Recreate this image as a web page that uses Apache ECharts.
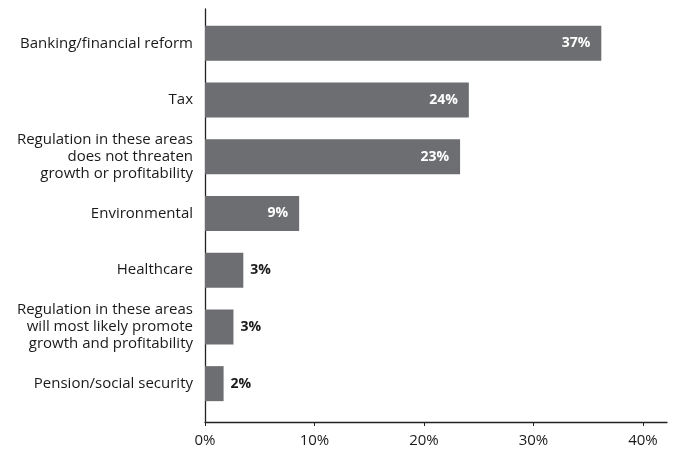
<!DOCTYPE html>
<html><head><meta charset="utf-8">
<script src="https://cdn.jsdelivr.net/npm/echarts@6/dist/echarts.min.js"></script>
<style>html,body{margin:0;padding:0;background:#fff}#c{width:677px;height:450px}</style>
</head><body><div id="c"></div>
<script>
const categories = [
  'Banking/financial reform',
  'Tax',
  'Regulation in these areas\ndoes not threaten\ngrowth or profitability',
  'Environmental',
  'Healthcare',
  'Regulation in these areas\nwill most likely promote\ngrowth and profitability',
  'Pension/social security'
];
const values = [36.2, 24.1, 23.3, 8.6, 3.5, 2.6, 1.7];
const valueLabels = ['37%', '24%', '23%', '9%', '3%', '3%', '2%'];
const xTicks = [0, 10, 20, 30, 40];
const insideThreshold = 5;

const FONT = 'Open Sans';
const TXT = '#1a1a1a';
const BAR = '#6d6e71';

const data = values.map((v, i) => {
  const inside = v > insideThreshold;
  return {
    value: v,
    label: {
      show: true,
      formatter: valueLabels[i],
      position: inside ? 'insideRight' : 'right',
      distance: inside ? 11 : 7,
      color: inside ? '#ffffff' : TXT,
      fontWeight: 'bold',
      fontSize: 14,
      fontFamily: FONT
    }
  };
});

const chart = echarts.init(document.getElementById('c'), null, {renderer: 'canvas'});
chart.setOption({
  animation: false,
  grid: [
    {left: 205, right: 10, top: 15, bottom: 38},
    {left: 205, right: 10, top: 9, bottom: 28}
  ],
  xAxis: [
    {gridIndex: 0, type: 'value', min: 0, max: 42.2, show: false},
    {gridIndex: 1, type: 'value', min: 0, max: 42.2,
     axisLine: {show: true, lineStyle: {color: '#222', width: 1.3}},
     axisTick: {show: true, length: 4, customValues: xTicks, lineStyle: {color: '#222'}},
     axisLabel: {customValues: xTicks, formatter: v => v + '%', color: TXT, fontSize: 15, fontFamily: FONT, margin: 11},
     splitLine: {show: false}}
  ],
  yAxis: [
    {gridIndex: 0, type: 'category', data: categories, inverse: true,
     axisLine: {show: false}, axisTick: {show: false},
     axisLabel: {color: TXT, fontSize: 15, fontFamily: FONT, margin: 12, lineHeight: 17, align: 'right'}},
    {gridIndex: 1, type: 'value', min: 0, max: 1,
     axisLine: {show: true, lineStyle: {color: '#222', width: 1.3}},
     axisTick: {show: false}, axisLabel: {show: false}, splitLine: {show: false}}
  ],
  series: [{
    type: 'bar', xAxisIndex: 0, yAxisIndex: 0,
    barWidth: 35,
    itemStyle: {color: BAR},
    data: data
  }]
});
</script></body></html>
